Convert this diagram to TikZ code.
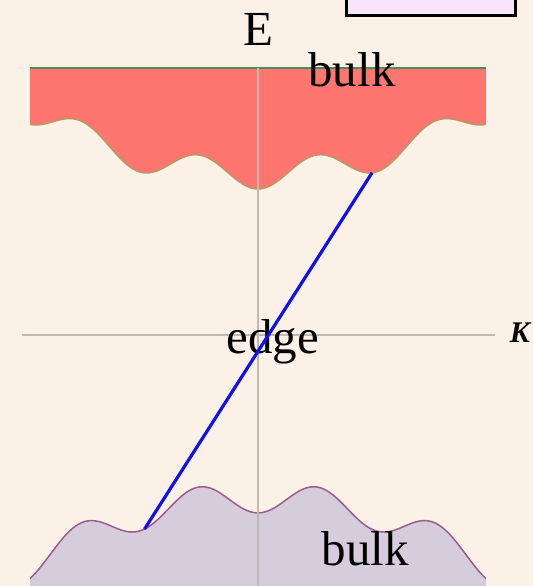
\documentclass[tikz,border=0pt]{standalone}
\usepackage{fontspec}
\setmainfont{Liberation Serif}
\usetikzlibrary{positioning}
\definecolor{bgcream}{HTML}{FBF1E6}
\definecolor{boxlilac}{HTML}{F7E6FA}
\definecolor{upperfill}{HTML}{FF7670}
\definecolor{upperrim}{HTML}{B49A62}
\definecolor{uppertop}{HTML}{4E8A5E}
\definecolor{lowerfill}{HTML}{D5CDDB}
\definecolor{lowerrim}{HTML}{A05A8E}
\definecolor{axisgray}{HTML}{C2BAB2}
\definecolor{edgeblue}{HTML}{1010F0}

\begin{document}
\begin{tikzpicture}[
    x=0.5pt, y=-0.5pt,
    rim/.style={line width=0.75pt},
    axis/.style={draw=axisgray, line width=0.7pt},
    lbl/.style={font=\fontsize{24.5}{28}\selectfont, anchor=base, inner sep=0pt},
    edgeline/.style={draw=edgeblue, line width=1.6pt},
]
\useasboundingbox (0,0) rectangle (533,586);
\clip (0,0) rectangle (533,586);
\fill[bgcream] (0,0) rectangle (533,586);

% legend box, cut by the top edge
\draw[line width=1.5pt, fill=boxlilac] (347,-10) rectangle (516,15);

% upper bulk band
\fill[upperfill] (30,68) -- plot[domain=-2.28:2.28, samples=150]
    ({258+100*\x}, {174.1+14.9*cos(305.08*\x)-12.2*\x*\x}) -- (486,68) -- cycle;
\draw[rim, upperrim] plot[domain=-2.28:2.28, samples=150]
    ({258+100*\x}, {174.1+14.9*cos(305.08*\x)-12.2*\x*\x});
\draw[rim, uppertop] (30,68) -- (486,68);

% lower bulk band
\fill[lowerfill] (30,586) -- plot[domain=-2.28:2.28, samples=150]
    ({258+100*\x}, {497.7+15.2*cos(305.08*\x)+12.9*\x*\x}) -- (486,586) -- cycle;
\draw[rim, lowerrim] plot[domain=-2.28:2.28, samples=150]
    ({258+100*\x}, {497.7+15.2*cos(305.08*\x)+12.9*\x*\x});

% axes
\coordinate (kleft) at (22,335);
\coordinate (kright) at (495,335);
\coordinate (etop) at (258,68);
\coordinate (ebot) at (258,586);
\draw[axis] (kleft) -- (kright);
\draw[axis] (etop) -- (ebot);

\node[lbl] (elabel) at (258,45) {E};
\node[lbl] (bulkhi) at (352,86) {bulk};
\node[lbl] (edgelbl) at (272.5,353) {edge};
\node[lbl] (bulklo) at (365.5,565) {bulk};
\node[lbl, font=\fontsize{15}{18}\selectfont\bfseries\itshape] (klabel) at (520,342) {K};

% edge state
\coordinate (edgelo) at (144.5,529.1);
\coordinate (edgehi) at (372,172.8);
\draw[edgeline] (edgelo) -- (edgehi);
\end{tikzpicture}
\end{document}
